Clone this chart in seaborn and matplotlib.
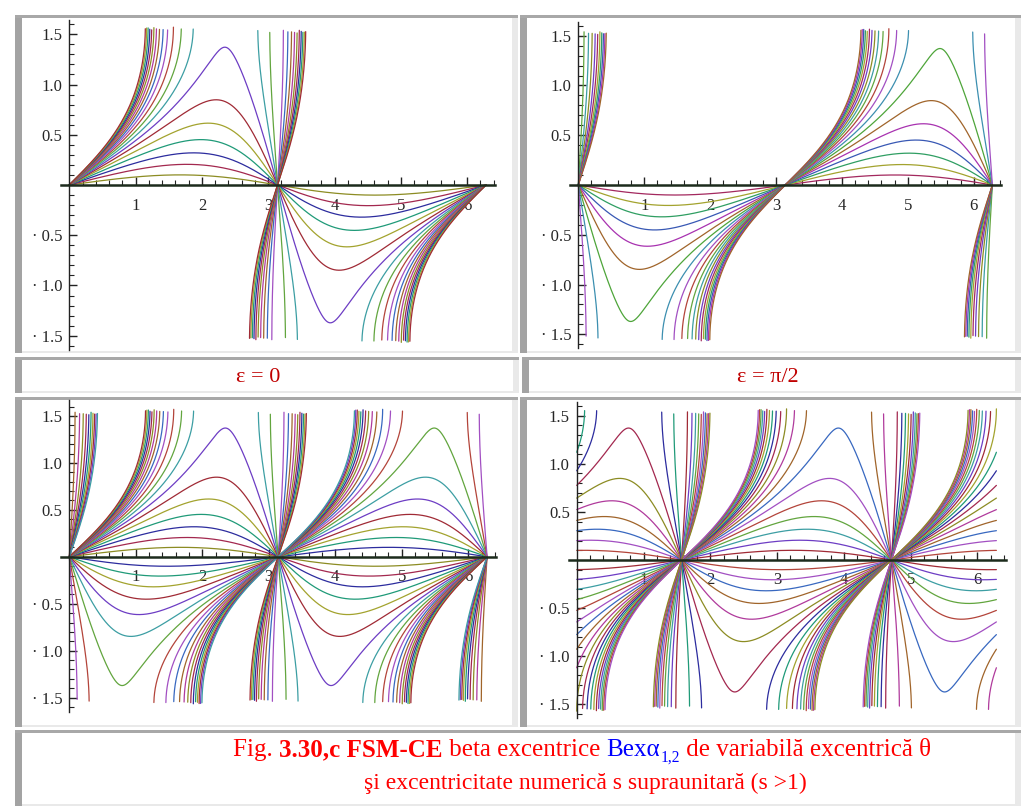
import numpy as np
import pandas as pd
import matplotlib
matplotlib.use("Agg")
import matplotlib.pyplot as plt
import matplotlib.patches as mpatches
from matplotlib.ticker import FixedLocator
import seaborn as sns

# numeric eccentricity values of the curve family
s_values = [0.1, 0.2, 0.3, 0.4, 0.5, 0.6, 0.7, 0.8, 0.9, 1.0,
            1.1, 1.2, 1.3, 1.4, 1.5, 1.6, 1.7, 1.8, 1.9, 2.0]
# per panel: which branches of Bex alpha are drawn and the eccentric shift
panel_branches = [[1], [2], [1, 2], [1, 2]]
panel_eps = [0.0, 0.0, 0.0, np.pi / 2]
panel_labels = ["ε = 0", "ε = π/2"]
x_ticks = [1, 2, 3, 4, 5, 6]
y_ticks = [-1.5, -1.0, -0.5, 0.5, 1.0, 1.5]
y_ticklabels = ["· 1.5", "· 1.0", "· 0.5", "0.5", "1.0", "1.5"]

W, H = 1021, 809
colors = ["#8c8c23", "#a3284f", "#2c2c9e", "#1f9a78", "#a3a32e", "#a02a35",
          "#6d3dc4", "#3c9ea3", "#62a53e", "#b3443a", "#a24fc2", "#3868c0",
          "#a0642a", "#b03a9c"]
colors_tr = ["#a3285e", "#a3a32e", "#2f9e62", "#3858b4", "#a832b0", "#a0642a",
             "#4ea53a", "#3c8fb0", "#a24fc2", "#b3443a", "#62a53e", "#3c9ea3",
             "#8c8c23", "#6d3dc4"]
branch_offset = {0: {1: 0}, 1: {2: 0}, 2: {1: 0, 2: 2}, 3: {1: 5, 2: 9}}


def bex(theta, s, eps, branch):
    u = theta - eps
    with np.errstate(divide="ignore", invalid="ignore"):
        if branch == 1:
            g = s * np.sin(u) / (1 + s * np.cos(u))
        else:
            g = -s * np.sin(u) / (1 - s * np.cos(u))
        return np.arcsin(g)


def px_rect(x0, y0, x1, y1):
    return [x0 / W, 1 - y1 / H, (x1 - x0) / W, (y1 - y0) / H]


def frame(fig, x0, y0, x1, y1):
    for (a, b, c, d), col in [((x0, y0, x1, y1), "#e9e9e9"),
                              ((x0 + 7, y0 + 3, x1 - 6, y1 - 2), "white"),
                              ((x0, y0, x0 + 7, y1), "#a3a3a3"),
                              ((x0, y0, x1, y0 + 3), "#a8a8a8")]:
        r = px_rect(a, b, c, d)
        fig.patches.append(mpatches.Rectangle((r[0], r[1]), r[2], r[3],
                                              transform=fig.transFigure,
                                              facecolor=col, edgecolor="none",
                                              zorder=-10))


theta = np.linspace(0, 2 * np.pi, 16001)

sns.set_theme(style="white")
plt.rcParams["font.family"] = ["Liberation Serif", "DejaVu Serif"]
fig = plt.figure(figsize=(W / 100, H / 100), dpi=100)
fig.patch.set_facecolor("white")

frame(fig, 15, 15, 518, 353)
frame(fig, 520, 15, 1021, 353)
frame(fig, 15, 357, 519, 393)
frame(fig, 522, 357, 1021, 393)
frame(fig, 15, 397, 518, 727)
frame(fig, 520, 397, 1021, 727)
frame(fig, 15, 730, 1021, 806)

# axes placement: (left px, top px, right px, bottom px, xlim, ylim)
axes_px = [(61.3, 20.2, 495.0, 349.8, (-0.12, 6.42), (-1.64, 1.64)),
           (570.4, 21.8, 1001.4, 348.2, (-0.12, 6.42), (-1.64, 1.64)),
           (61.3, 400.0, 496.2, 711.7, (-0.12, 6.42), (-1.65, 1.67)),
           (568.7, 402.2, 1006.2, 717.8, (-0.12, 6.43), (-1.64, 1.64))]

for p, (l, t, r, b, xl, yl) in enumerate(axes_px):
    ax = fig.add_axes(px_rect(l, t, r, b))
    ax.set_facecolor("none")
    ax.set_zorder(2)
    cyc = colors_tr if p == 1 else colors
    rows = []
    palette = {}
    for br in panel_branches[p]:
        off = branch_offset[p][br]
        for i, s in enumerate(s_values):
            y = bex(theta, s, panel_eps[p], br)
            ok = np.isfinite(y) & (np.abs(y) <= yl[1])
            seg = np.cumsum(np.diff(ok.astype(int), prepend=0) == 1)
            key = f"{br}-{i}"
            palette[key] = cyc[(i + off) % len(cyc)]
            rows.append(pd.DataFrame({"theta": theta[ok], "beta": y[ok],
                                      "curve": key,
                                      "unit": [f"{key}-{k}" for k in seg[ok]]}))
    df = pd.concat(rows, ignore_index=True)
    sns.lineplot(data=df, x="theta", y="beta", hue="curve", units="unit",
                 estimator=None, sort=False, palette=palette, legend=False,
                 linewidth=0.9, ax=ax)
    for ln in ax.lines:
        ln.set_zorder(1)
    ax.set_xlim(*xl)
    ax.set_ylim(*yl)
    ax.set_xlabel("")
    ax.set_ylabel("")
    for side in ["top", "right"]:
        ax.spines[side].set_visible(False)
    ax.spines["left"].set_position(("data", 0))
    ax.spines["bottom"].set_position(("data", 0))
    ax.spines["left"].set_color("#222222")
    ax.spines["left"].set_linewidth(1.0)
    ax.spines["bottom"].set_color("#1c2b1c")
    ax.spines["bottom"].set_linewidth(1.8)
    ax.spines["bottom"].set_zorder(5)
    ax.xaxis.set_major_locator(FixedLocator(x_ticks))
    ax.xaxis.set_minor_locator(FixedLocator(np.arange(0.2, 6.41, 0.2)))
    ax.yaxis.set_major_locator(FixedLocator(y_ticks))
    ax.yaxis.set_minor_locator(FixedLocator(
        [v for v in np.round(np.arange(-1.6, 1.61, 0.1), 2) if v != 0]))
    ax.set_xticklabels([str(v) for v in x_ticks])
    ax.set_yticklabels(y_ticklabels)
    ax.tick_params(axis="both", which="both", direction="in", color="#222222",
                   labelsize=12, bottom=True, left=True)
    ax.tick_params(axis="x", which="major", length=6, width=1, pad=9)
    ax.tick_params(axis="x", which="minor", length=3.5, width=0.8)
    ax.tick_params(axis="y", which="major", length=6, width=1, pad=5)
    ax.tick_params(axis="y", which="minor", length=3.5, width=0.8)

fig.text(258 / W, 1 - 377 / H, panel_labels[0], color="#c00000", fontsize=16,
         ha="center", va="center")
fig.text(768 / W, 1 - 377 / H, panel_labels[1], color="#c00000", fontsize=16,
         ha="center", va="center")


def rich_line(pieces, xc, ybase, size):
    renderer = fig.canvas.get_renderer()
    objs = []
    total = 0.0
    for txt, col, bold, sub in pieces:
        fs = size * 0.62 if sub else size
        yy = ybase - (6 / H if sub else 0)
        t = fig.text(0, yy, txt, color=col, fontsize=fs,
                     fontweight="bold" if bold else "normal",
                     ha="left", va="baseline")
        w = t.get_window_extent(renderer).width / fig.bbox.width
        objs.append((t, w))
        total += w
    x = xc - total / 2
    for t, w in objs:
        t.set_x(x)
        x += w


red, blue = "#ff0000", "#0000ff"
rich_line([("Fig. ", red, False, False),
           ("3.30,c FSM-CE", red, True, False),
           (" beta excentrice ", red, False, False),
           ("Bexα", blue, False, False),
           ("1,2", blue, False, True),
           (" de variabilă excentrică θ", red, False, False)],
          582 / W, 1 - 756 / H, 18)
rich_line([("şi excentricitate numerică s supraunitară (s >1)", red, False, False)],
          585 / W, 1 - 789 / H, 17)

fig.savefig("out.png", dpi=100)
